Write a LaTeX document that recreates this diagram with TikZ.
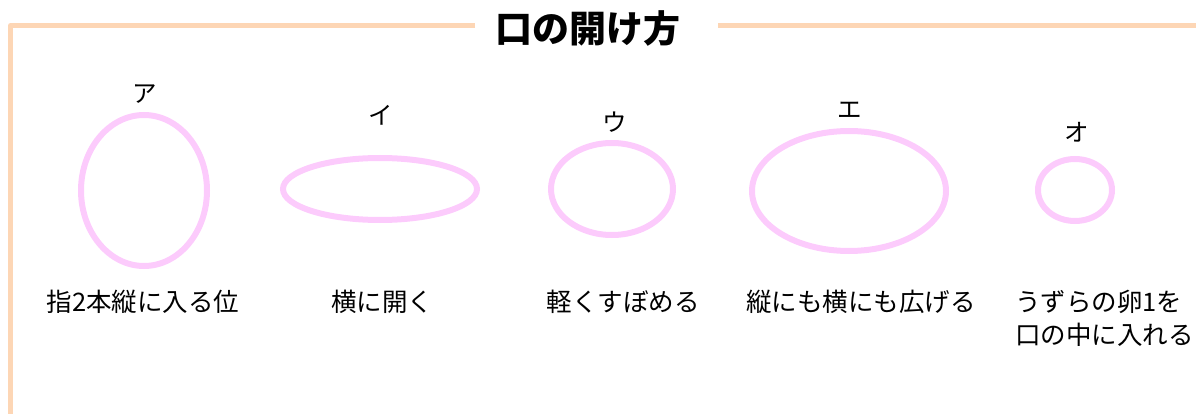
\documentclass[tikz,border=0pt]{standalone}
\usepackage{fontspec}
\setmainfont{Noto Sans CJK JP}
\definecolor{framec}{HTML}{FDD6B5}
\definecolor{mouth}{HTML}{FCCBFC}
\begin{document}
\begin{tikzpicture}[x=1pt,y=-1pt,
  framel/.style={draw=framec,line width=5pt,line join=round},
  mouthring/.style={draw=mouth,line width=6pt},
  lbl/.style={font=\fontsize{24.5}{28}\selectfont,inner sep=0pt},
  captext/.style={font=\fontsize{25.5}{33}\selectfont,inner sep=0pt,align=left}]
\useasboundingbox (0,0) rectangle (1196,414);
\draw[framel] (475,25.5) -- (10.5,25.5) -- (10.5,416);
\draw[framel] (718,25.5) -- (1198,25.5);
\node[inner sep=0pt,font=\fontsize{37}{42}\selectfont\bfseries] (title) at (588,28) {口の開け方};
% ellipses
\draw[mouthring] (144,190.5) ellipse [x radius=63, y radius=75.5];
\draw[mouthring] (380,189) ellipse [x radius=97, y radius=31];
\draw[mouthring] (612,189) ellipse [x radius=61, y radius=46];
\draw[mouthring] (849,191) ellipse [x radius=97, y radius=60];
\draw[mouthring] (1075,190) ellipse [x radius=37, y radius=31];
% letters
\node[lbl] (a) at (145,94) {ア};
\node[lbl] (i) at (381,115) {イ};
\node[lbl] (u) at (615,122) {ウ};
\node[lbl] (e) at (850,110) {エ};
\node[lbl] (o) at (1077,132) {オ};
% captions
\node[captext] (ca) at (143,302) {指2本縦に入る位};
\node[captext] (ci) at (382,302) {横に開く};
\node[captext] (cu) at (623,302) {軽くすぼめる};
\node[captext] (ce) at (861,302) {縦にも横にも広げる};
\node[captext,anchor=west] (co) at (1015,318) {うずらの卵1を\\口の中に入れる};
\end{tikzpicture}
\end{document}
